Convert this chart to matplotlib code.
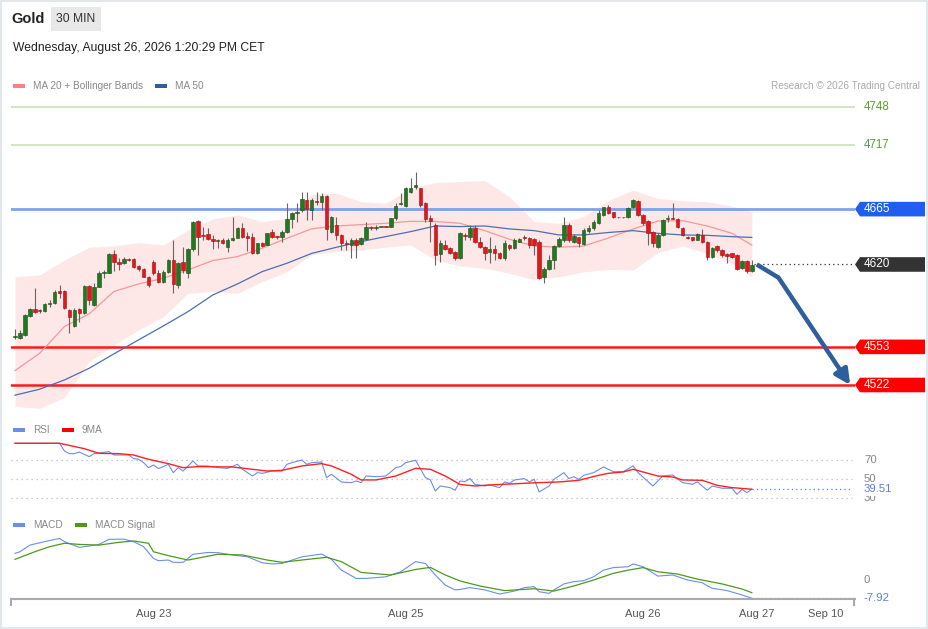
import matplotlib
matplotlib.use("Agg")
import matplotlib.pyplot as plt
import matplotlib.transforms as mtransforms
from matplotlib.patches import Polygon, Rectangle
from matplotlib.lines import Line2D

plt.rcParams['font.family'] = ['Liberation Sans', 'DejaVu Sans']

# --------------------------
# Data (30 min candles, index = candle number)
# --------------------------
opens = [4561, 4560, 4562.7, 4578.2, 4583.6, 4582.2, 4582.2, 4587.9, 4588.5, 4598.5,
         4598.5, 4583, 4570.3, 4583.9, 4580.3, 4602.8, 4587.1, 4602, 4613.4, 4613.4,
         4628.6, 4622.3, 4621, 4624.5, 4624.5, 4618.8, 4616.1, 4610.1, 4622.3, 4613.4,
         4606.1, 4614.2, 4623.7, 4603.4, 4622.3, 4612.9, 4632.4, 4655.4, 4643.2, 4644.8,
         4640.5, 4639.4, 4640, 4634.5, 4640, 4641.9, 4650, 4643.2, 4642.7, 4629.1,
         4637.2, 4635.9, 4646.7, 4642.7, 4642.2, 4646.7, 4656.8, 4662.2, 4664.3, 4672.5,
         4664.3, 4671.5, 4670.5, 4675.7, 4646.7, 4652.2, 4644, 4637.8, 4635.9, 4640,
         4636.7, 4640.5, 4650.8, 4649.4, 4650.6, 4650.8, 4650.8, 4657.6, 4669, 4667.6,
         4679.2, 4682.7, 4682, 4669.8, 4657.6, 4652.2, 4628.6, 4635.9, 4633.2, 4630.5,
         4625.1, 4643.5, 4642.7, 4649.4, 4638.6, 4634, 4630.5, 4632.4, 4629.1, 4625.1,
         4635.9, 4633.2, 4638.6, 4642.7, 4641.3, 4640.5, 4638.6, 4610.1, 4616.1, 4623.7,
         4635.1, 4640, 4652.2, 4638.6, 4642.7, 4636.7, 4647.2, 4649.4, 4653.8, 4660.2,
         4666.8, 4662.4, 4658.3, 4658.5, 4658.3, 4666.4, 4671.8, 4660.2, 4655.6, 4646.6,
         4634.4, 4644, 4656.7, 4657.5, 4656.7, 4650, 4642.6, 4642, 4639.9, 4644,
         4638.5, 4625.8, 4635, 4631.7, 4628.5, 4629, 4627.7, 4616.8, 4623.1, 4615]
highs = [4567.3, 4567, 4580, 4584.5, 4601, 4583.6, 4588.5, 4591.2, 4599.3, 4603.4,
         4599.3, 4584, 4584.4, 4585, 4603.4, 4603.4, 4605.3, 4614.6, 4615.6, 4629.1,
         4631.8, 4625, 4625.7, 4625.5, 4625, 4619.6, 4616.8, 4610.7, 4623.7, 4615.6,
         4615.6, 4624.5, 4640, 4622.3, 4634, 4633.2, 4655.4, 4656.2, 4650.8, 4649.4,
         4644, 4641, 4641.3, 4641.3, 4658.9, 4650.8, 4653.5, 4646.7, 4645.4, 4637.5,
         4638.6, 4645.8, 4648.6, 4643.5, 4648.1, 4669.8, 4663, 4669.8, 4679.2, 4679.2,
         4674, 4679.2, 4678, 4676.5, 4659.7, 4658.9, 4645, 4640, 4641.3, 4641.3,
         4642, 4654.9, 4651.5, 4652, 4651, 4651.2, 4657.6, 4669.8, 4677.9, 4683.3,
         4690, 4695.5, 4682.5, 4671, 4660, 4653.5, 4640, 4640, 4634, 4631,
         4646.7, 4645.4, 4652, 4652, 4642.7, 4635, 4642.7, 4635.9, 4630, 4640,
         4636.5, 4641.3, 4641.5, 4644, 4642, 4641.3, 4639.5, 4618, 4627.8, 4635.9,
         4642.2, 4658.9, 4653.5, 4644.8, 4642.7, 4649.4, 4652, 4656.2, 4664.3, 4667,
         4668, 4663, 4658.8, 4658.8, 4666.8, 4673, 4672.5, 4661, 4656.2, 4647.5,
         4645.3, 4657, 4660.2, 4669.7, 4657.5, 4650.5, 4643.5, 4642.6, 4645.5, 4648.5,
         4639, 4634, 4636, 4632.5, 4629, 4629.6, 4628.2, 4623.8, 4624, 4623.5]
lows = [4559.5, 4559.5, 4562, 4577.6, 4580.5, 4580.3, 4581.7, 4585.8, 4587.9, 4592.5,
        4583.6, 4564.1, 4569.5, 4573.6, 4579.8, 4587.1, 4586.5, 4601.5, 4608.8, 4612.9,
        4615, 4615.6, 4620.4, 4622.5, 4617.2, 4615, 4609.5, 4602, 4611.5, 4605.3,
        4604.7, 4612.9, 4596.6, 4600.7, 4612.9, 4608.8, 4631.3, 4627.8, 4640, 4640,
        4632.4, 4633.2, 4636.5, 4630.5, 4639.4, 4641.3, 4641.9, 4631.3, 4628.6, 4628.5,
        4634.5, 4635.5, 4641.9, 4640.5, 4638.6, 4645.9, 4649.4, 4654.9, 4663, 4656.2,
        4656.2, 4668, 4664.3, 4640, 4645.9, 4640, 4631.8, 4631.8, 4625, 4625,
        4636, 4640, 4648, 4648, 4650.2, 4650.4, 4650.2, 4656.2, 4668.4, 4667,
        4678.5, 4681.5, 4667, 4654.9, 4638.6, 4619.6, 4622.3, 4631.8, 4628.6, 4623.7,
        4624.3, 4640, 4640, 4637.2, 4633, 4623.7, 4621, 4623.7, 4624.5, 4623.7,
        4632, 4632.4, 4638, 4640, 4633.2, 4627.8, 4608, 4605.3, 4615.6, 4616.1,
        4634, 4638.6, 4638.6, 4637.2, 4634, 4635.9, 4645.9, 4648, 4653, 4659.5,
        4661, 4657.5, 4657.9, 4657.9, 4657.8, 4665.8, 4659.5, 4652.2, 4636, 4634.4,
        4633.1, 4643.5, 4654.8, 4656.7, 4649.5, 4643.5, 4640.5, 4639, 4639.5, 4637.2,
        4624, 4625, 4630.5, 4626.3, 4621, 4625, 4615.5, 4616, 4612.8, 4614]
closes = [4561.3, 4564.1, 4579, 4583.9, 4581.7, 4582.0, 4587.9, 4588.5, 4598, 4596.6,
          4584.7, 4577.6, 4583, 4580.3, 4602.8, 4591.2, 4602, 4613.4, 4614.2, 4628.6,
          4622.3, 4620.4, 4624.5, 4623.9, 4617.7, 4616.1, 4610.1, 4603.4, 4613.4, 4606.1,
          4614.2, 4623.7, 4604.2, 4621, 4615.6, 4632.4, 4654.9, 4642.7, 4642.9, 4640.5,
          4639.4, 4639.6, 4637.2, 4640, 4641.9, 4650, 4642.7, 4641.3, 4629.1, 4637.2,
          4635.1, 4645.4, 4642.7, 4642.2, 4646.7, 4656.8, 4662.2, 4663, 4673, 4664.9,
          4672.5, 4670.5, 4675.7, 4648.6, 4658.9, 4644, 4637.8, 4636.7, 4640, 4635.9,
          4641.3, 4650.8, 4649.4, 4650.8, 4650.8, 4650.6, 4657.6, 4667.6, 4669.8, 4682,
          4682, 4684.7, 4668.4, 4656.8, 4655.7, 4627.8, 4637.3, 4632.4, 4629.1, 4625.1,
          4645.4, 4643, 4649.4, 4638.6, 4634, 4629.7, 4632.4, 4629.7, 4625.1, 4637.2,
          4633.2, 4640, 4640.5, 4641.3, 4635.9, 4635.9, 4608.8, 4616.1, 4623.7, 4635.1,
          4640.5, 4651.8, 4640, 4643.2, 4637.2, 4648.1, 4649.4, 4654.9, 4661.6, 4666.4,
          4661.8, 4658.3, 4658.5, 4658.3, 4666.2, 4672.4, 4660.2, 4653.4, 4645.3, 4637.2,
          4644, 4656.1, 4657.5, 4657.2, 4650.2, 4644, 4641.2, 4639.9, 4644.7, 4638.5,
          4626.3, 4633.1, 4631.7, 4627.7, 4626.9, 4626.3, 4616, 4623.1, 4615, 4619.5]

# indicators, sampled every 5 candles
ind_x = [0, 5, 10, 15, 20, 25, 30, 35, 40, 45, 50, 55, 60, 65, 70, 75, 80, 85, 90, 95,
         100, 105, 110, 115, 120, 125, 130, 135, 140, 145, 149]
bb_upper = [4610.1, 4611.5, 4623.7, 4634, 4635.1, 4637.8, 4635.9, 4648, 4657, 4660.3,
            4654.9, 4657.6, 4677, 4678, 4671, 4669.8, 4682, 4686.6, 4687.4, 4688.2,
            4675.2, 4654.9, 4653.5, 4659, 4672, 4680.5, 4673.7, 4671.8, 4671, 4667.5, 4662.9]
bb_lower = [4504.5, 4503.1, 4512, 4541, 4554.6, 4566.8, 4577.6, 4596.6, 4598, 4596.6,
            4606.1, 4614.2, 4628, 4630.5, 4631.8, 4634, 4635.9, 4623.7, 4618.8, 4616.9,
            4612.9, 4607.4, 4610, 4614, 4616, 4615.5, 4629.6, 4635, 4629, 4621, 4610]
ma20 = [4533.7, 4547.8, 4569.5, 4579.8, 4598, 4604.2, 4608.8, 4615.6, 4623.2, 4626.4,
        4633.2, 4641.3, 4649, 4651.3, 4652.4, 4653.5, 4655.1, 4654.9, 4653.5, 4647.5,
        4640.5, 4635, 4634, 4635, 4641.5, 4648.8, 4655.3, 4655.6, 4651.3, 4645.3, 4635.8]
ma50 = [4513.7, 4518.6, 4526.1, 4535.6, 4547.3, 4558.7, 4570, 4581.7, 4595.2, 4604.2,
        4614.2, 4621, 4629, 4634, 4638.6, 4642.7, 4646.7, 4651.3, 4650.8, 4651.3,
        4648.9, 4647.5, 4644, 4644, 4646, 4647.5, 4645.3, 4644, 4643.7, 4642.6, 4642]

rsi_x = [0, 4, 7, 9, 10, 11, 12, 13, 15, 16, 19, 20, 23, 24, 25, 26, 27, 28, 29, 31,
         32, 33, 34, 36, 37, 39, 41, 43, 45, 46, 48, 49, 50, 52, 54, 55, 56, 58, 59, 60,
         62, 63, 64, 66, 68, 69, 70, 71, 73, 75, 77, 78, 79, 81, 83, 84, 85, 86, 88, 89,
         90, 91, 92, 93, 95, 96, 98, 99, 100, 101, 103, 104, 105, 106, 108, 109, 111, 112, 113, 114,
         115, 117, 119, 121, 123, 125, 126, 129, 131, 133, 135, 137, 138, 140, 141, 143, 145, 146, 147, 148,
         149]
rsi = [87.4, 87.4, 87.4, 87.4, 79.4, 76.6, 76.6, 78.3, 73.5, 76.6, 78.7, 75.2, 75.2, 71.4, 70.7, 67.2, 62, 64.8, 61, 65.5,
       56.8, 62, 58.5, 69, 63.8, 63.8, 62, 61.3, 65.5, 60.3, 53.3, 56.8, 56.1, 58.5, 58.5, 65.5, 67.2, 70, 65.5, 67.2,
       67.9, 51.6, 55.1, 47.1, 46.4, 48.1, 46.4, 53.3, 52.6, 53.3, 62, 63.1, 67.2, 69.7, 51.6, 49.2, 37.7, 42.9, 41.2, 38.4,
       48.1, 47.4, 50.6, 44.7, 42.9, 44, 41.2, 47.1, 45.7, 49.2, 50.6, 47.1, 49.9, 36.7, 42.9, 49.9, 56.8, 50.6, 52.6, 49.9,
       54, 56.8, 62.7, 57.8, 57.8, 63.8, 56.8, 42.9, 53.3, 54.4, 46.4, 44.7, 47.1, 38.4, 42.9, 40.5, 40.5, 34.2, 39.4, 36,
       39.51]
rsi_ma_x = [0, 9, 14, 17, 21, 24, 27, 31, 34, 37, 44, 48, 51, 54, 58, 62, 64, 68, 70, 73,
            77, 81, 84, 87, 90, 93, 96, 99, 103, 106, 110, 114, 118, 120, 123, 125, 128, 130, 133, 135,
            139, 142, 145, 149]
rsi_ma = [87.4, 87.4, 81.8, 76.9, 76.6, 75.2, 70.7, 66.2, 62, 63.1, 62.7, 60.3, 58.5, 59.2, 63.8, 66.2, 63.8, 55.1, 49.2, 49.2,
          53.3, 61.3, 60.3, 53.3, 44.5, 42.9, 44, 44.7, 45.7, 46.4, 47.1, 48.8, 54, 56.1, 57.5, 60.3, 56.1, 53.3, 52.3, 49.2,
          48.8, 43.6, 41.2, 39.5]

macd_x = [0, 1, 3, 6, 9, 10, 13, 15, 17, 19, 22, 24, 26, 28, 29, 31, 32, 34, 36, 39,
          41, 44, 47, 50, 52, 54, 58, 62, 64, 66, 69, 71, 75, 78, 81, 83, 85, 87, 89, 90,
          92, 95, 98, 101, 103, 105, 106, 108, 109, 111, 113, 115, 117, 119, 121, 124, 125, 127, 130, 133,
          136, 139, 140, 141, 144, 147, 149]
macd = [11.6, 12.3, 15.2, 16.7, 18.1, 16.7, 14.2, 14.8, 15.5, 17.7, 17.8, 16.7, 14.5, 9.4, 8.4, 8.7, 7.7, 7.7, 11.2, 12,
        11.9, 10.9, 10.1, 7.5, 7, 7.2, 10.1, 11.3, 9, 4.3, 0.7, 0.7, 1.4, 3.6, 8, 7.2, 2.2, -2.2, -4.3, -4.1,
        -3.3, -4.3, -6.1, -4.8, -3.3, -2.9, -5.1, -5.8, -4.3, -1.7, -0.7, -0.3, 1.4, 4.3, 5.4, 5.8, 7, 5.8, 1.7, 2.2,
        0, -1.2, -2.5, -3.6, -4.6, -6.5, -7.92]
signal_x = [0, 4, 7, 10, 13, 17, 21, 24, 27, 28, 31, 35, 41, 46, 51, 54, 58, 63, 66, 70,
            76, 81, 84, 87, 90, 94, 99, 105, 109, 113, 117, 121, 124, 127, 130, 134, 138, 143, 147, 149]
signal = [9, 12.3, 14.5, 16, 15.5, 15.2, 16.4, 17, 16, 12.3, 10.6, 8.7, 11.2, 10.9, 8.7, 7.7, 8.7, 9.9, 8, 3.3,
          2.2, 4.6, 5.5, 2.2, -0.4, -2.6, -4.6, -3.8, -4.8, -2.6, 0, 2.9, 4.3, 5.4, 3.6, 2.6, 0.4, -1.7, -3.9, -5.5]

# key levels and forecast
resistance_levels = [4748, 4717]
pivot_level = 4665
support_levels = [4553, 4522]
last_price = 4620
forecast_x = [150, 154.4, 168.9]
forecast_y = [4620, 4609.3, 4522]

tick_pos = [28, 79, 127, 150, 164]
tick_labels = ["Aug 23", "Aug 25", "Aug 26", "Aug 27", "Sep 10"]

# --------------------------
# Layout helpers (pixel based)
# --------------------------
W, H = 929, 629
fig = plt.figure(figsize=(W / 100, H / 100), dpi=100)
fig.patch.set_facecolor("white")


def rect(x0, y0, x1, y1):
    return [x0 / W, 1 - y1 / H, (x1 - x0) / W, (y1 - y0) / H]


def fx(px):
    return px / W


def fy(py):
    return 1 - py / H


XLIM = (-0.81, 169.87)

ax = fig.add_axes(rect(11, 95, 855, 415))
ax_rsi = fig.add_axes(rect(11, 438, 855, 505))
ax_macd = fig.add_axes(rect(11, 532, 855, 599))
for a in (ax, ax_rsi, ax_macd):
    a.set_xlim(*XLIM)
    a.set_facecolor("none")
    for s in a.spines.values():
        s.set_visible(False)
    a.set_xticks([])
    a.set_yticks([])

ax.set_ylim(4497.6, 4757.8)
ax_rsi.set_ylim(23.1, 92.9)
ax_macd.set_ylim(-8.26, 20.9)

# --------------------------
# Header
# --------------------------
fig.patches.append(Rectangle((0.001, 0.001), 0.997, 0.997, transform=fig.transFigure,
                             fill=False, edgecolor="#e3e8ec", lw=1.5))
fig.text(fx(11), fy(19), "Gold", fontsize=10.5, fontweight="bold", color="#222222", va="center")
fig.patches.append(Rectangle((fx(51), fy(31)), (101 - 51) / W, 24 / H, transform=fig.transFigure,
                             facecolor="#e8e8e8", edgecolor="none"))
fig.text(fx(76), fy(19), "30 MIN", fontsize=8.7, color="#333333", va="center", ha="center")
fig.text(fx(13), fy(48), "Wednesday, August 26, 2026 1:20:29 PM CET", fontsize=8.7,
         color="#222222", va="center")


def legend_item(x, y, color, label):
    fig.patches.append(Rectangle((fx(x), fy(y + 2)), 12 / W, 4 / H, transform=fig.transFigure,
                                 facecolor=color, edgecolor="none"))
    fig.text(fx(x + 20), fy(y), label, fontsize=7.2, color="#888888", va="center")


legend_item(13, 86, "#ff8080", "MA 20 + Bollinger Bands")
legend_item(155, 86, "#2f5d9e", "MA 50")
fig.text(fx(920), fy(86), "Research \u00a9 2026 Trading Central", fontsize=7.2, color="#aaaaaa",
         va="center", ha="right")
legend_item(13, 430, "#6a8fe8", "RSI")
legend_item(62, 430, "#ff0000", "9MA")
legend_item(13, 525, "#6a8fe8", "MACD")
legend_item(75, 525, "#4c9a1a", "MACD Signal")

# --------------------------
# Price panel
# --------------------------
ax.fill_between(ind_x, bb_lower, bb_upper, color="#fde7e7", lw=0, zorder=1)
ax.plot(ind_x, ma20, color="#f29a9a", lw=0.9, zorder=2)
ax.plot(ind_x, ma50, color="#4c6faf", lw=0.9, zorder=2)

for lvl in resistance_levels:
    ax.axhline(lvl, color="#c7e3b5", lw=1.2, zorder=1.5)
ax.axhline(pivot_level, color="#7da2ee", lw=2, zorder=1.5)
for lvl in support_levels:
    ax.axhline(lvl, color="#ff1a1a", lw=1.8, zorder=1.5)

for i, (o, h, l, c) in enumerate(zip(opens, highs, lows, closes)):
    ax.vlines(i, l, h, color="#6e6262", lw=0.8, zorder=3)
    up = c >= o
    body = max(abs(c - o), 0.7)
    ax.bar(i, body, bottom=min(o, c), width=0.7,
           color="#1f7a1f" if up else "#e4161b",
           edgecolor="#1a4a1a" if up else "#9a1010", lw=0.4, zorder=4)

ax.plot([len(closes) - 0.5, XLIM[1] - 0.6], [last_price, last_price], color="#333333",
        lw=0.9, ls=(0, (1, 2.5)), zorder=2)

ax.plot(forecast_x[:2], forecast_y[:2], color="#2e5e9c", lw=3.2, solid_capstyle="butt", zorder=5)
ax.annotate("", xy=(forecast_x[2], forecast_y[2]), xytext=(forecast_x[1], forecast_y[1]),
            arrowprops=dict(arrowstyle="-|>,head_length=0.9,head_width=0.45", color="#2e5e9c",
                            lw=3.2, shrinkA=0, shrinkB=0), zorder=5)

# right side tags
blend = mtransforms.blended_transform_factory(fig.transFigure, ax.transData)
half = 7.3 * (4757.8 - 4497.6) / 320


def tag(price, color, text):
    xs = [fx(855), fx(860), fx(925), fx(925), fx(860)]
    ys = [price, price + half, price + half, price - half, price - half]
    fig.add_artist(Polygon(list(zip(xs, ys)), closed=True, transform=blend,
                           facecolor=color, edgecolor="none"))
    fig.text(fx(864), price, text, transform=blend, fontsize=8.5, color="white", va="center")


for lvl in resistance_levels:
    fig.text(fx(864), lvl, str(lvl), transform=blend, fontsize=8.3, color="#5aa02c", va="center")
tag(pivot_level, "#1e5ef0", str(pivot_level))
tag(last_price, "#333333", str(last_price))
for lvl in support_levels:
    tag(lvl, "#ff0000", str(lvl))

# --------------------------
# RSI panel
# --------------------------
for lvl in (70, 50, 30):
    ax_rsi.plot([XLIM[0], 169.3], [lvl, lvl], color="#bbbbbb", lw=0.9, ls=(0, (1, 3)))
ax_rsi.plot(rsi_x, rsi, color="#6a8fe8", lw=0.8)
ax_rsi.plot(rsi_ma_x, rsi_ma, color="#ff2020", lw=1)
ax_rsi.plot([149, 169.3], [rsi[-1], rsi[-1]], color="#5b7fe0", lw=0.9, ls=(0, (1, 2.5)))
blend_rsi = mtransforms.blended_transform_factory(fig.transFigure, ax_rsi.transData)
for lvl in (70, 50, 30):
    fig.text(fx(864), lvl, str(lvl), transform=blend_rsi, fontsize=8.2, color="#888888", va="center")
fig.text(fx(864), rsi[-1], "%.2f" % rsi[-1], transform=blend_rsi, fontsize=8.2, color="#5b7fe0",
         va="center", bbox=dict(facecolor="white", edgecolor="none", pad=1.2))

# --------------------------
# MACD panel
# --------------------------
ax_macd.plot(macd_x, macd, color="#6a8fe8", lw=0.8)
ax_macd.plot(signal_x, signal, color="#4c9a1a", lw=0.9)
ax_macd.plot([149, XLIM[1] - 0.3], [macd[-1], macd[-1]], color="#5b7fe0", lw=0.9, ls=(0, (1, 2.5)))
blend_macd = mtransforms.blended_transform_factory(fig.transFigure, ax_macd.transData)
fig.text(fx(864), 0, "0", transform=blend_macd, fontsize=8.2, color="#888888", va="center")
fig.text(fx(864), macd[-1], "%.2f" % macd[-1], transform=blend_macd, fontsize=8.2,
         color="#5b7fe0", va="center")

ax_macd.spines["bottom"].set_visible(True)
ax_macd.spines["bottom"].set_color("#aaaaaa")
ax_macd.spines["bottom"].set_linewidth(1.5)
ax_macd.set_xticks(tick_pos)
ax_macd.set_xticklabels(tick_labels)
ax_macd.tick_params(axis="x", length=0, pad=7, labelsize=8, labelcolor="#555555")
for px in (11.5, 854.5):
    fig.add_artist(Line2D([fx(px), fx(px)], [fy(599), fy(605)], color="#aaaaaa", lw=1.5))

fig.savefig("out.png", dpi=100)
